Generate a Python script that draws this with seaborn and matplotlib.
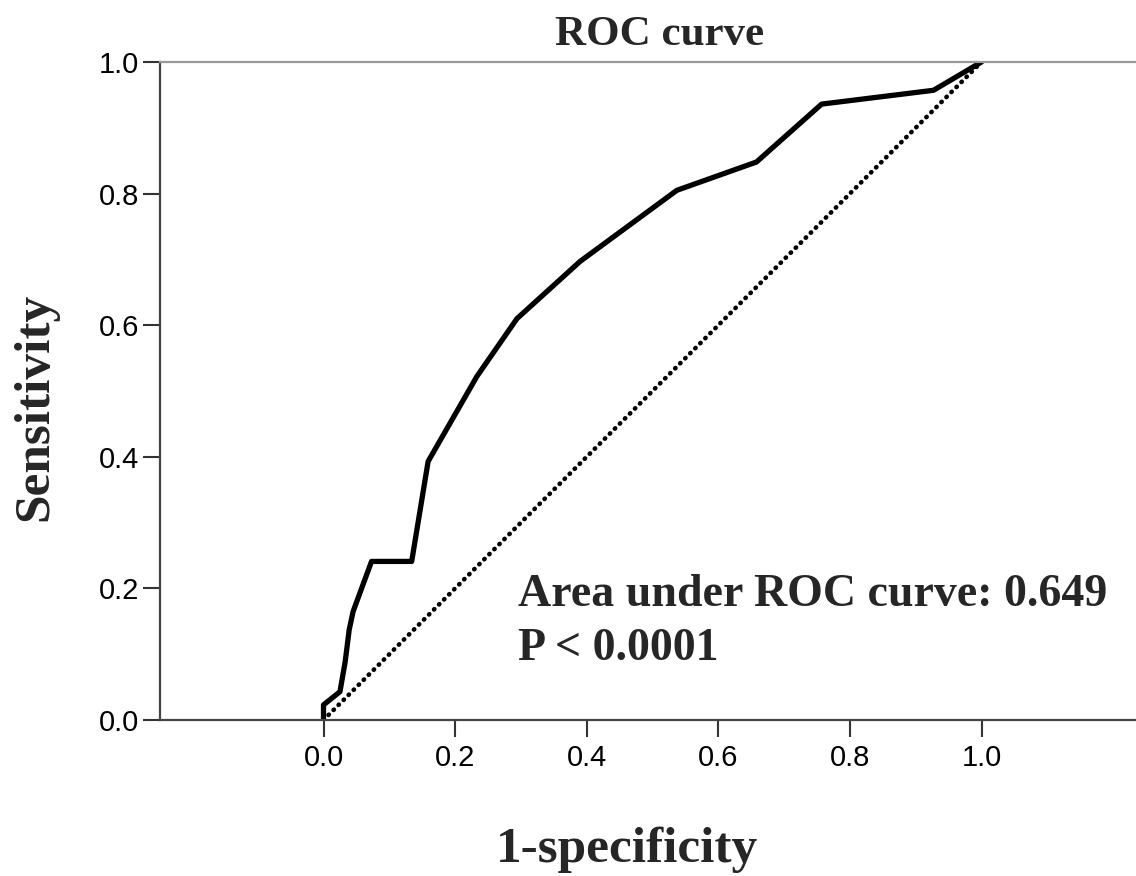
import numpy as np
import pandas as pd
import matplotlib
matplotlib.use("Agg")
import matplotlib.pyplot as plt
import seaborn as sns

# ROC points
fpr = [0.0, 0.0, 0.025, 0.033, 0.039, 0.045, 0.073, 0.134, 0.159, 0.233, 0.294, 0.39, 0.537, 0.658, 0.757, 0.927, 1.0]
tpr = [0.0, 0.023, 0.043, 0.089, 0.137, 0.165, 0.241, 0.241, 0.393, 0.522, 0.610, 0.697, 0.805, 0.848, 0.936, 0.957, 1.0]
ref_line = [0.0, 1.0]
ticks = [0.0, 0.2, 0.4, 0.6, 0.8, 1.0]
auc_text = "Area under ROC curve: 0.649\nP < 0.0001"

sns.set_style("ticks")
plt.rcParams["font.family"] = ["Liberation Sans", "DejaVu Sans"]

df = pd.DataFrame({"fpr": fpr, "tpr": tpr})

fig = plt.figure(figsize=(11.36, 8.76), dpi=100)
ax = fig.add_axes([160 / 1136, 1 - 720 / 876, 1 - 160 / 1136, 658 / 876])

sns.lineplot(data=df, x="fpr", y="tpr", sort=False, estimator=None,
             color="black", linewidth=3.8, ax=ax)
ax.plot(ref_line, ref_line, color="black", linewidth=3.3,
        linestyle=(0, (0.1, 1.45)), dash_capstyle="round")

ax.set_xlim(-0.2485, 1.2348)
ax.set_ylim(0, 1)
ax.set_xticks(ticks)
ax.set_yticks(ticks)
ax.set_xticklabels([f"{t:.1f}" for t in ticks])
ax.set_yticklabels([f"{t:.1f}" for t in ticks])
ax.tick_params(axis="both", direction="out", length=12, width=1.5,
               color="#333333", labelsize=21, labelcolor="black")
ax.tick_params(axis="y", pad=3)
ax.tick_params(axis="x", pad=5)

for side in ["left", "bottom"]:
    ax.spines[side].set_linewidth(1.6)
    ax.spines[side].set_color("#444444")
ax.spines["top"].set_linewidth(1.6)
ax.spines["top"].set_color("#999999")
ax.spines["right"].set_visible(False)

serif = ["Liberation Serif", "DejaVu Serif"]
ax.set_title("ROC curve", family=serif, fontweight="bold", fontsize=31,
             x=0.512, pad=12)
ax.set_xlabel("1-specificity", family=serif, fontweight="bold", fontsize=37)
ax.set_ylabel("Sensitivity", family=serif, fontweight="bold", fontsize=37)
ax.xaxis.set_label_coords((627 - 160) / 976, (720 - 850) / 658)
ax.xaxis.label.set_va("center")
ax.yaxis.set_label_coords((35 - 160) / 976, (720 - 407) / 658)
ax.yaxis.label.set_va("center")

# baseline of the last line sits near y=660 px
ax.text(0.296, (720 - 660) / 658, auc_text, family=serif, fontweight="bold",
        fontsize=33, ha="left", va="baseline", linespacing=1.38)

fig.savefig("out.png", dpi=100)
